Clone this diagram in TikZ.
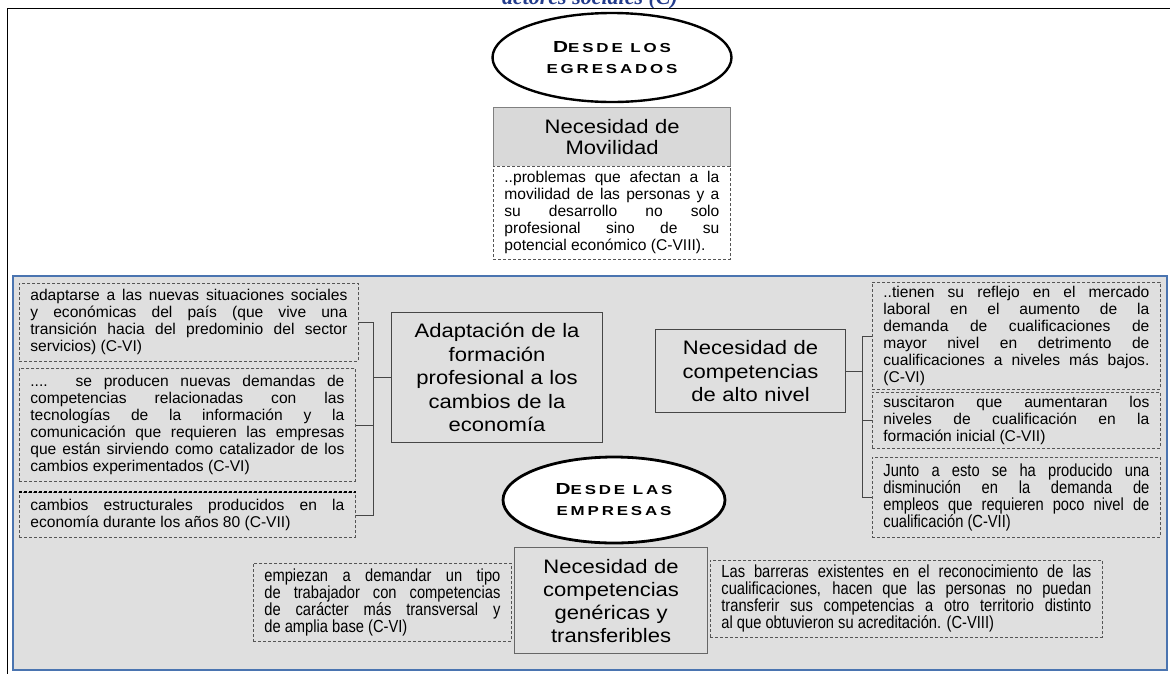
\documentclass[tikz,border=0pt]{standalone}
\usepackage{fontspec}
\setmainfont{Liberation Sans}
\newfontfamily\narrowfam[FakeStretch=0.84]{Liberation Sans}
\newfontfamily\headfam[FakeStretch=1.13]{Liberation Sans}
\newfontfamily\capfam[FakeStretch=1.3,LetterSpace=22]{Liberation Sans}
\newfontfamily\titlefam{Liberation Serif}
\usetikzlibrary{shapes.geometric}

\definecolor{panelgray}{RGB}{223,223,223}
\definecolor{headgray}{RGB}{217,217,217}
\definecolor{panelblue}{RGB}{74,116,176}
\definecolor{titleblue}{RGB}{35,60,140}
\definecolor{linegray}{RGB}{70,70,70}
\definecolor{dashgray}{RGB}{85,85,85}

\newcommand\notetext{\fontsize{15.6}{17}\selectfont\hyphenpenalty=10000\tolerance=10000}
\newcommand\narrowtext{\narrowfam\fontsize{17.5}{17}\selectfont\hyphenpenalty=10000\tolerance=10000}
\newcommand\headtext{\headfam\fontsize{19.5}{23.5}\selectfont}
\newcommand\ovaltext{\capfam\bfseries\fontsize{13}{21}\selectfont}
\newcommand\initialcap[1]{{\fontsize{16}{21}\selectfont #1}}

\tikzset{
  note/.style={draw=dashgray, dash pattern=on 3pt off 2pt, line width=0.8pt,
    anchor=north west, inner xsep=11pt, inner ysep=3pt, align=justify, font=\notetext},
  narrownote/.style={note, font=\narrowtext},
  headbox/.style={draw=linegray, line width=1.1pt, anchor=north west, inner sep=0pt,
    align=center, font=\headtext},
  oval/.style={ellipse, draw=black, fill=white, line width=2.4pt, inner sep=0pt,
    align=center, font=\ovaltext},
  conn/.style={draw=linegray, line width=0.8pt},
}

\begin{document}
\begin{tikzpicture}[x=1pt,y=-1pt]
\useasboundingbox (0,0) rectangle (1170,673);
\fill[white] (0,0) rectangle (1170,673);

% caption running above the frame
\node[anchor=base, text=titleblue, font=\titlefam\bfseries\itshape\fontsize{22}{24}\selectfont]
  (title) at (590,4.5) {actores sociales (C)};

% outer frame and shaded lower panel
\draw[line width=1.6pt] (7.5,8.5) rectangle (1175,680);
\draw[panelblue, fill=panelgray, line width=2.5pt] (13,276) rectangle (1167,670);

% graduates' view
\node[oval, minimum width=239pt, minimum height=89pt] (egr) at (612,57.5)
  {\initialcap{D}ESDE LOS\\EGRESADOS};
\node[headbox, fill=headgray, draw=gray, line width=1.3pt, text width=237pt,
  minimum height=59pt, font=\headfam\fontsize{19.5}{21}\selectfont] (mov) at (493,107)
  {Necesidad de\\Movilidad};
\node[note, fill=white, text width=215pt, minimum height=93pt] (movtxt) at (493,166)
  {..problemas que afectan a la\linebreak
   movilidad de las personas y a\linebreak
   su desarrollo no solo\linebreak
   profesional sino de su\linebreak
   potencial económico (C-VIII).};

% left column
\node[note, text width=317pt, minimum height=78pt] (lA) at (19,283)
  {adaptarse a las nuevas situaciones sociales\linebreak
   y económicas del país (que vive una\linebreak
   transición hacia del predominio del sector\linebreak
   servicios) (C-VI)};
\node[note, text width=314pt, minimum height=113pt] (lB) at (19,368)
  {.... se producen nuevas demandas de\linebreak
   competencias relacionadas con las\linebreak
   tecnologías de la información y la\linebreak
   comunicación que requieren las empresas\linebreak
   que están sirviendo como catalizador de los\linebreak
   cambios experimentados (C-VI)};
\node[note, text width=314pt, minimum height=45pt] (lC) at (19,492)
  {cambios estructurales producidos en la\linebreak
   economía durante los años 80 (C-VII)};
\draw[black, line width=1.3pt, dash pattern=on 3pt off 2pt] (lC.north west) -- (lC.north east);

\node[headbox, text width=211pt, minimum height=130pt] (adapt) at (391,312)
  {Adaptación de la\\formación\\profesional a los\\cambios de la\\economía};

% right column
\node[headbox, text width=190pt, minimum height=83pt] (alto) at (655,329)
  {Necesidad de\\competencias\\de alto nivel};
\node[note, text width=266pt, minimum height=107pt] (rA) at (872,282)
  {..tienen su reflejo en el mercado\linebreak
   laboral en el aumento de la\linebreak
   demanda de cualificaciones de\linebreak
   mayor nivel en detrimento de\linebreak
   cualificaciones a niveles más bajos.\linebreak
   (C-VI)};
\node[note, text width=266pt, minimum height=56pt] (rB) at (872,392)
  {suscitaron que aumentaran los\linebreak
   niveles de cualificación en la\linebreak
   formación inicial (C-VII)};
\node[narrownote, text width=266pt, minimum height=80pt] (rC) at (872,457)
  {Junto a esto se ha producido una\linebreak
   disminución en la demanda de\linebreak
   empleos que requieren poco nivel de\linebreak
   cualificación (C-VII)};

% companies' view
\node[oval, line width=2.8pt, minimum width=222pt, minimum height=86pt] (emp) at (614,500)
  {\initialcap{D}ESDE LAS\\EMPRESAS};
\node[headbox, fill=panelgray, draw=gray!80!black, text width=193pt, minimum height=106pt,
  font=\headfam\fontsize{19.5}{23}\selectfont] (gen) at (514,547)
  {Necesidad de\\competencias\\genéricas y\\transferibles};
\node[narrownote, text width=236pt, minimum height=78pt] (bL) at (253,563)
  {empiezan a demandar un tipo\linebreak
   de trabajador con competencias\linebreak
   de carácter más transversal y\linebreak
   de amplia base (C-VI)};
\node[narrownote, text width=370pt, minimum height=77pt] (bR) at (710,560)
  {Las barreras existentes en el reconocimiento de las\linebreak
   cualificaciones, hacen que las personas no puedan\linebreak
   transferir sus competencias a otro territorio distinto\linebreak
   al que obtuvieron su acreditación. (C-VIII)};

% brackets
\coordinate (lbar) at (373,0);
\draw[conn] (lA.east) -- (lA.east -| lbar) -- (lC.east -| lbar) -- (lC.east);
\draw[conn] (lB.east) -- (lB.east -| lbar);
\draw[conn] (adapt.west) -- (adapt.west -| lbar);

\coordinate (rbar) at (862,0);
\draw[conn] (rA.west) -- (rA.west -| rbar) -- (rC.west -| rbar) -- (rC.west);
\draw[conn] (rB.west) -- (rB.west -| rbar);
\draw[conn] (alto.east) -- (alto.east -| rbar);
\end{tikzpicture}
\end{document}
